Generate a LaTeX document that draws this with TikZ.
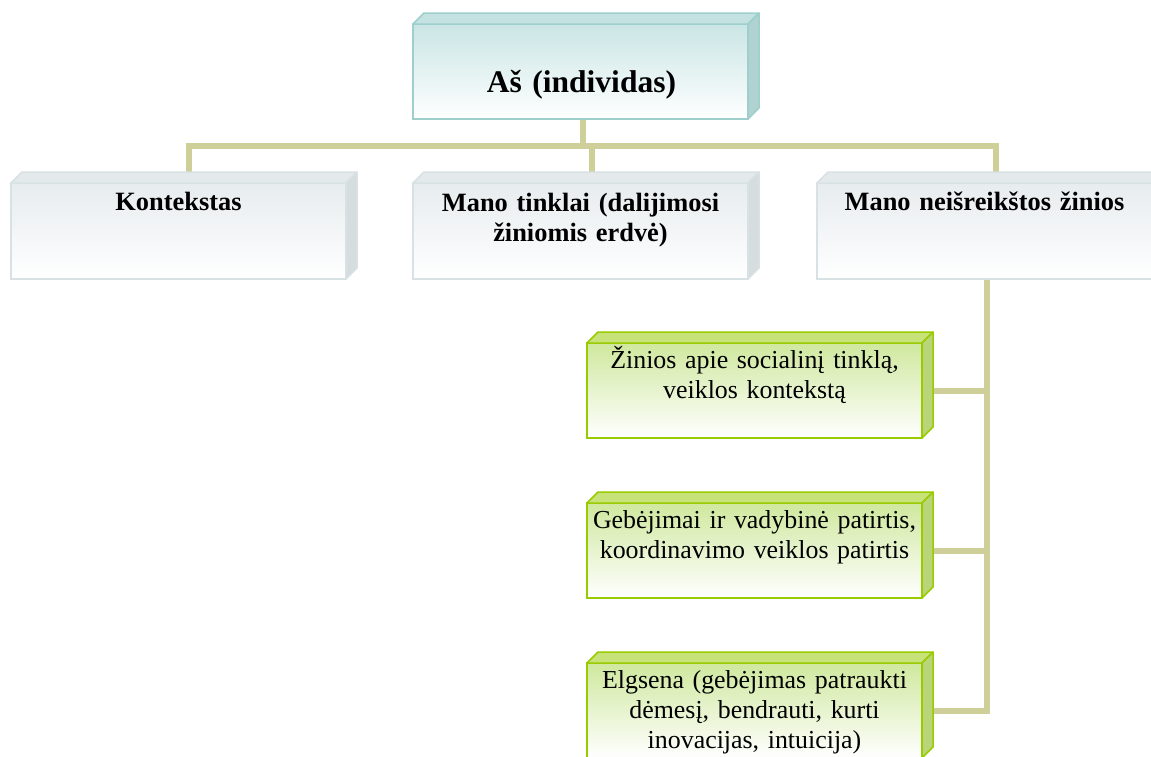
\documentclass[tikz,border=0pt]{standalone}
\usepackage{fontspec}
\setmainfont{Liberation Serif}
\usetikzlibrary{calc,backgrounds}

% palette
\definecolor{busline}{RGB}{207,207,154}
\definecolor{tealedge}{RGB}{158,207,204}
\definecolor{tealfront}{RGB}{202,229,229}
\definecolor{tealtop}{RGB}{197,226,226}
\definecolor{tealside}{RGB}{176,211,209}
\definecolor{grayedge}{RGB}{216,225,227}
\definecolor{grayfront}{RGB}{231,236,238}
\definecolor{graytop}{RGB}{228,234,235}
\definecolor{grayside}{RGB}{214,221,222}
\definecolor{greenedge}{RGB}{153,204,0}
\definecolor{greenfront}{RGB}{207,232,158}
\definecolor{greentop}{RGB}{200,226,122}
\definecolor{greenside}{RGB}{186,212,122}

\tikzset{
  slab/.style={inner sep=0pt, outer sep=0pt, anchor=north west, line width=1.5pt,
    minimum width=335pt, minimum height=95pt},
  headslab/.style={slab, draw=tealedge, top color=tealfront, bottom color=white},
  grayslab/.style={slab, draw=grayedge, top color=grayfront, bottom color=white, minimum height=96pt},
  greenslab/.style={slab, draw=greenedge, top color=greenfront, bottom color=white},
  conn/.style={draw=busline, line width=6pt, line join=miter},
  caption/.style={inner sep=0pt, anchor=base, align=center, text width=334pt},
  boldcap/.style={caption, font=\bfseries\fontsize{26.4}{30}\selectfont},
  plaincap/.style={caption, font=\fontsize{25.9}{30}\selectfont},
}

% top and side faces of a slab, attached to its front node
\newcommand\slabfaces[4]{%
  \filldraw[fill=#2, draw=#4, line width=1.5pt, line join=round]
    (#1.north west) -- ++(11pt,11pt) -- ([shift={(11pt,11pt)}]#1.north east)
    -- (#1.north east) -- cycle;
  \filldraw[fill=#3, draw=#4, line width=1.5pt, line join=round]
    (#1.north east) -- ++(11pt,11pt) -- ([shift={(11pt,11pt)}]#1.south east)
    -- (#1.south east) -- cycle;
}

\begin{document}
\begin{tikzpicture}[x=1pt, y=-1pt]
\useasboundingbox (0,0) rectangle (1151,756);

% head
\node[headslab] (top) at (413,24) {};
\slabfaces{top}{tealtop}{tealside}{tealedge}
\node[boldcap, font=\bfseries\fontsize{31.5}{34}\selectfont] (toptxt) at (581.5,92) {Aš (individas)};

% second level
\node[grayslab] (k) at (11,183) {};
\slabfaces{k}{graytop}{grayside}{grayedge}
\node[boldcap] (ktxt) at ($(k.north)+(0,-27pt)$) {Kontekstas};

\node[grayslab] (t) at (413,183) {};
\slabfaces{t}{graytop}{grayside}{grayedge}
\node[boldcap] (ttxt) at ($(t.north)+(0,-28pt)$) {Mano tinklai (dalijimosi\\ žiniomis erdvė)};

\node[grayslab] (n) at (817,183) {};
\slabfaces{n}{graytop}{grayside}{grayedge}
\node[boldcap] (ntxt) at ($(n.north)+(0,-27pt)$) {Mano neišreikštos žinios};

% third level
\node[greenslab] (g1) at (587,343) {};
\slabfaces{g1}{greentop}{greenside}{greenedge}
\node[plaincap] (g1txt) at ($(g1.north)+(0,-25pt)$) {Žinios apie socialinį tinklą,\\ veiklos kontekstą};

\node[greenslab] (g2) at (587,503) {};
\slabfaces{g2}{greentop}{greenside}{greenedge}
\node[plaincap] (g2txt) at ($(g2.north)+(0,-25pt)$) {Gebėjimai ir vadybinė patirtis,\\ koordinavimo veiklos patirtis};

\node[greenslab] (g3) at (587,663) {};
\slabfaces{g3}{greentop}{greenside}{greenedge}
\node[plaincap] (g3txt) at ($(g3.north)+(0,-25pt)$) {Elgsena (gebėjimas patraukti\\ dėmesį, bendrauti, kurti\\ inovacijas, intuicija)};

% connectors
\begin{scope}[on background layer]
  \draw[conn] ([xshift=2.5pt]top.south) -- ++(0,-27pt);
  \draw[conn] ([xshift=10.5pt]k.north) -- ++(0,37pt) -| ([xshift=11.5pt]n.north);
  \draw[conn] ([xshift=11pt]t.north) -- ++(0,37pt);
  \coordinate (spine) at ([xshift=2.5pt]n.south);
  \draw[conn] (spine) |- (g3.east);
  \draw[conn] (g1.east) -- (g1.east -| spine);
  \draw[conn] (g2.east) -- (g2.east -| spine);
\end{scope}
\end{tikzpicture}
\end{document}
